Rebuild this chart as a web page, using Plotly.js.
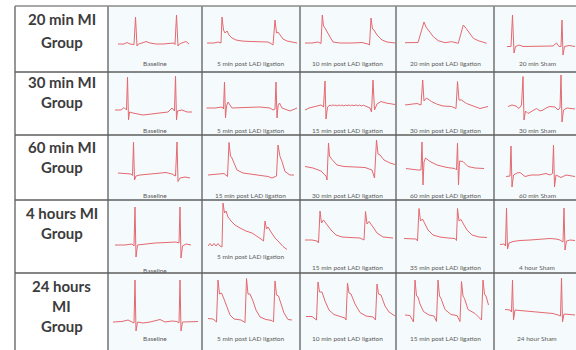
<!DOCTYPE html>
<html>
<head>
<meta charset="utf-8">
<script src="https://cdn.plot.ly/plotly-3.0.1.min.js"></script>
<style>html,body{margin:0;padding:0;background:#fff;}#chart{width:576px;height:350px;}</style>
</head>
<body>
<div id="chart"></div>
<script>
// ---- Table text ----
const rowLabels = [
  ["20 min MI", "Group"],
  ["30 min MI", "Group"],
  ["60 min MI", "Group"],
  ["4 hours MI", "Group"],
  ["24 hours", "MI", "Group"]
];
const captions = [
  ["Baseline", "5 min post LAD ligation", "10 min post LAD ligation", "20 min post LAD ligation", "20 min Sham"],
  ["Baseline", "5 min post LAD ligation", "15 min post LAD ligation", "30 min post LAD ligation", "30 min Sham"],
  ["Baseline", "15 min post LAD ligation", "30 min post LAD ligation", "60 min post LAD ligation", "60 min Sham"],
  ["Baseline", "5 min post LAD ligation", "15 min post LAD ligation", "35 min post LAD ligation", "4 hour Sham"],
  ["Baseline", "5 min post LAD ligation", "10 min post LAD ligation", "15 min post LAD ligation", "24 hour Sham"]
];

// ---- ECG strips: [time ms, amplitude µV] ----
// Row 1: 20 min MI group
const mi20_baseline = [[100,0],[160,0],[190,75],[220,0],[260,-25],[275,1350],[290,-100],[305,0],[340,50],[380,125],[420,50],[480,0],[550,0],[600,25],[640,75],[660,50],[670,-25],[685,1450],[700,-100],[715,0],[750,75],[780,125],[810,0]];
const mi20_5min = [[50,50],[120,50],[160,100],[190,50],[200,1350],[215,700],[230,550],[250,650],[270,450],[300,300],[340,200],[400,150],[480,125],[600,100],[660,100],[690,25],[710,-50],[730,1200],[745,550],[760,600],[780,450],[810,250],[850,150],[900,100],[950,50]];
const mi20_10min = [[50,50],[120,50],[180,100],[210,25],[223,1450],[235,900],[250,800],[270,600],[300,350],[330,100],[400,50],[520,50],[620,75],[680,0],[695,-50],[710,1300],[725,750],[740,700],[770,450],[820,200],[870,100],[950,50]];
const mi20_20min = [[90,65],[170,50],[220,75],[257,700],[280,1100],[300,850],[323,700],[373,365],[423,165],[490,65],[557,115],[623,35],[650,535],[673,950],[700,785],[723,615],[773,285],[823,165],[873,65],[907,35]];
const mi20_sham = [[130,-125],[170,-125],[185,1450],[200,-450],[215,-125],[250,-50],[290,-125],[460,-125],[590,-100],[625,50],[650,-125],[670,-125],[680,1200],[690,-550],[705,-125],[750,-75],[810,-125]];

// Row 2: 30 min MI group
const mi30_baseline = [[70,0],[130,0],[160,125],[185,0],[195,1650],[205,-500],[215,-100],[250,-150],[350,-250],[490,-150],[600,-100],[640,100],[665,-50],[675,1700],[685,-500],[695,-50],[740,0],[790,-100],[840,-100]];
const mi30_5min = [[45,100],[130,100],[200,150],[215,50],[225,1400],[235,-400],[245,200],[260,400],[280,250],[300,100],[430,125],[580,150],[680,100],[710,0],[730,50],[740,1400],[750,-400],[760,200],[775,350],[800,100],[880,-50],[950,100]];
const mi30_15min = [[50,0],[90,100],[130,150],[170,200],[210,250],[235,150],[250,1450],[260,-450],[275,150],[300,250],[315,210],[330,260],[345,220],[360,250],[372,200],[390,255],[405,215],[420,250],[438,205],[455,250],[470,215],[490,255],[505,210],[520,250],[540,215],[560,255],[575,210],[595,245],[615,205],[635,240],[655,190],[700,100],[715,-100],[730,1500],[745,0],[770,300],[810,425],[860,350],[950,275]];
const mi30_30min = [[90,250],[150,300],[210,325],[250,250],[267,1500],[280,450],[305,600],[355,425],[405,300],[470,200],[555,175],[600,75],[615,1425],[630,500],[655,500],[705,325],[775,200],[840,75],[920,175]];
const mi30_sham = [[140,175],[180,250],[220,200],[250,75],[275,250],[290,1675],[300,-500],[315,-50],[340,-175],[380,-50],[425,75],[460,-50],[490,0],[530,125],[560,175],[610,150],[640,0],[660,100],[670,1750],[680,-600],[695,0],[730,100],[775,75],[810,50]];

// Row 3: 60 min MI group
const mi60_baseline = [[100,-50],[180,-100],[230,-100],[245,-175],[255,1500],[265,-400],[280,-200],[320,-150],[400,-100],[490,-50],[580,-25],[640,-100],[675,-200],[690,1500],[700,-475],[720,-300],[770,-250],[820,-300]];
const mi60_15min = [[60,-150],[140,-100],[220,-75],[255,-225],[270,1475],[285,800],[300,700],[320,450],[350,100],[410,-50],[540,-150],[660,-225],[700,-300],[745,-200],[760,1350],[780,775],[800,525],[830,25],[880,-150],[920,-150]];
const mi60_30min = [[50,275],[130,200],[210,50],[260,-200],[270,-400],[285,1450],[295,800],[320,625],[370,350],[440,275],[550,250],[650,225],[720,100],[745,-300],[765,1600],[780,900],[800,850],[840,600],[900,450],[950,375]];
const mi60_60min = [[100,175],[160,125],[220,100],[250,100],[260,1500],[270,-650],[280,500],[295,700],[340,525],[410,350],[510,225],[590,175],[605,100],[615,1450],[625,-650],[635,550],[670,525],[720,275],[790,200],[880,175]];
const mi60_sham = [[120,-225],[160,-200],[170,1300],[180,-750],[195,-150],[230,-50],[260,-25],[310,-225],[370,-150],[450,-150],[520,-75],[560,-150],[585,-75],[595,1350],[605,-750],[620,-150],[670,-275],[720,-150],[810,-225]];

// Row 4: 4 hours MI group
const mi4h_baseline = [[70,-150],[170,-150],[240,-100],[260,-200],[270,1750],[280,-750],[295,-150],[370,-100],[470,-50],[580,-25],[680,0],[710,-50],[720,1750],[730,-800],[745,-200],[780,-100],[830,-150]];
const mi4h_5min = [[60,-200],[80,-75],[100,-200],[120,-75],[140,-200],[160,-75],[180,-200],[200,-250],[210,1950],[225,1450],[240,1550],[260,1250],[290,1050],[330,850],[380,700],[440,550],[500,450],[550,300],[590,150],[615,50],[630,1050],[645,650],[660,750],[690,500],[730,200],[770,0],[810,-225],[850,-375]];
const mi4h_15min = [[50,100],[120,100],[170,50],[185,-50],[200,1550],[215,950],[235,1100],[270,850],[310,600],[360,350],[420,250],[500,225],[600,200],[640,100],[655,1525],[670,900],[690,1025],[730,750],[770,450],[830,250],[930,200]];
const mi4h_35min = [[80,175],[140,175],[200,150],[215,50],[230,1675],[245,1050],[265,1150],[290,900],[320,600],[370,350],[440,250],[520,200],[590,175],[605,75],[615,1675],[630,1050],[650,1125],[680,850],[710,600],[760,350],[830,250],[910,225]];
const mi4h_sham = [[60,-125],[100,-100],[115,-200],[125,1700],[135,-350],[150,-50],[190,25],[260,75],[360,100],[460,150],[560,175],[620,150],[660,100],[690,0],[700,1700],[710,-400],[725,50],[760,100],[810,75]];

// Row 5: 24 hours MI group
const mi24h_baseline = [[50,-200],[140,-175],[200,-100],[240,-200],[260,-250],[270,1900],[280,-650],[295,-200],[350,-250],[420,-200],[480,-125],[520,-75],[570,-200],[640,-150],[690,-175],[710,-250],[720,1900],[730,-650],[745,-200],[800,-200],[900,-175]];
const mi24h_5min = [[60,-25],[110,-50],[145,-200],[160,1900],[175,1200],[195,1250],[220,950],[250,500],[280,150],[320,-50],[390,-100],[430,-225],[445,1975],[460,1200],[480,1200],[510,850],[540,400],[580,50],[640,-75],[700,-125],[715,-200],[730,1850],[745,1150],[765,1100],[790,750],[820,250],[860,-75],[900,-100]];
const mi24h_10min = [[60,75],[120,75],[165,-100],[180,1800],[195,1300],[220,1300],[250,850],[290,400],[340,175],[400,100],[450,0],[460,-100],[475,1750],[490,1250],[510,1200],[550,700],[600,275],[660,100],[730,50],[755,-100],[770,1700],[785,1200],[810,1150],[850,600],[890,300],[950,100]];
const mi24h_15min = [[90,150],[140,125],[175,-200],[190,1900],[205,1100],[220,1050],[240,700],[275,325],[330,150],[380,100],[405,-175],[420,1900],[435,1100],[450,975],[490,425],[550,175],[610,125],[640,-175],[655,1825],[670,1100],[685,975],[720,425],[790,225],[855,-100],[870,1900],[885,1200],[900,1100],[925,650]];
const mi24h_sham = [[110,425],[160,400],[175,300],[185,1900],[195,-100],[210,400],[260,375],[330,350],[410,325],[510,275],[590,225],[640,150],[665,100],[675,2000],[685,-200],[700,200],[740,175],[810,150]];

const strips = [
  [mi20_baseline, mi20_5min, mi20_10min, mi20_20min, mi20_sham],
  [mi30_baseline, mi30_5min, mi30_15min, mi30_30min, mi30_sham],
  [mi60_baseline, mi60_15min, mi60_30min, mi60_60min, mi60_sham],
  [mi4h_baseline, mi4h_5min, mi4h_15min, mi4h_35min, mi4h_sham],
  [mi24h_baseline, mi24h_5min, mi24h_10min, mi24h_15min, mi24h_sham]
];

// ---- Layout geometry (pixels) ----
const W = 576, H = 350;
const colEdges = [108, 202, 300, 396, 494, 576];
const rowEdges = [6, 72, 135, 200, 273, 350];
const yRanges = [[-1400, 1900], [-1250, 1900], [-1400, 1850], [-1550, 2100], [-1600, 2250]];
const captionY = [[64,64,64,64,64],[130,130,130,130,130],[195,195,195,195,195],[270,256,267,267,267],[338,338,338,338,338]];
const captionX = [155, 250, 347, 445, 537];
const labelLineY = [[19, 42], [82, 102], [147, 167], [213, 233], [286, 306, 326]];

const px = x => x / W;
const py = y => 1 - y / H;

const traces = [];
const layout = {
  width: W, height: H,
  margin: {l: 0, r: 0, t: 0, b: 0},
  paper_bgcolor: '#ffffff',
  plot_bgcolor: 'rgba(0,0,0,0)',
  showlegend: false,
  shapes: [],
  annotations: []
};

for (let r = 0; r < 5; r++) {
  for (let c = 0; c < 5; c++) {
    const idx = r * 5 + c + 1;
    const xs = idx === 1 ? '' : String(idx);
    const pts = strips[r][c];
    traces.push({
      x: pts.map(p => p[0]),
      y: pts.map(p => p[1]),
      xaxis: 'x' + xs, yaxis: 'y' + xs,
      type: 'scatter', mode: 'lines',
      line: {color: 'rgb(228,104,112)', width: 1},
      hoverinfo: 'skip'
    });
    layout['xaxis' + xs] = {
      domain: [px(colEdges[c]), px(colEdges[c + 1])],
      range: [0, (colEdges[c + 1] - colEdges[c]) * 10],
      visible: false, fixedrange: true, anchor: 'y' + xs
    };
    layout['yaxis' + xs] = {
      domain: [py(rowEdges[r + 1]), py(rowEdges[r])],
      range: yRanges[r],
      visible: false, fixedrange: true, anchor: 'x' + xs
    };
    layout.annotations.push({
      text: captions[r][c], xref: 'paper', yref: 'paper',
      x: px(captionX[c]), y: py(captionY[r][c]),
      xanchor: 'center', yanchor: 'middle', showarrow: false,
      font: {family: 'Lato, "Open Sans", sans-serif', size: 6.5, color: '#5a5a5a'}
    });
  }
  rowLabels[r].forEach((t, i) => {
    layout.annotations.push({
      text: '<b>' + t + '</b>', xref: 'paper', yref: 'paper',
      x: px(61.5), y: py(labelLineY[r][i]),
      xanchor: 'center', yanchor: 'middle', showarrow: false,
      font: {family: 'Lato, "Open Sans", sans-serif', size: 15, color: '#3c3c3c'}
    });
  });
}

// cell backgrounds
layout.shapes.push({type: 'rect', xref: 'paper', yref: 'paper', x0: px(108), x1: px(576), y0: py(350), y1: py(6),
  fillcolor: '#f5fbfc', line: {width: 0}, layer: 'below'});
// grid lines
const gridColor = '#5e5e5e';
[15, 108, 202, 300, 396, 494].forEach(x => {
  layout.shapes.push({type: 'line', xref: 'paper', yref: 'paper', x0: px(x), x1: px(x), y0: py(350), y1: py(6),
    line: {color: gridColor, width: 1.3}});
});
rowEdges.slice(0, 5).forEach((y, i) => {
  layout.shapes.push({type: 'line', xref: 'paper', yref: 'paper', x0: px(15), x1: px(576), y0: py(y), y1: py(y),
    line: {color: i === 0 ? '#8a8a8a' : gridColor, width: 1.3}});
});

Plotly.newPlot('chart', traces, layout, {displayModeBar: false, staticPlot: true});
</script>
</body>
</html>
